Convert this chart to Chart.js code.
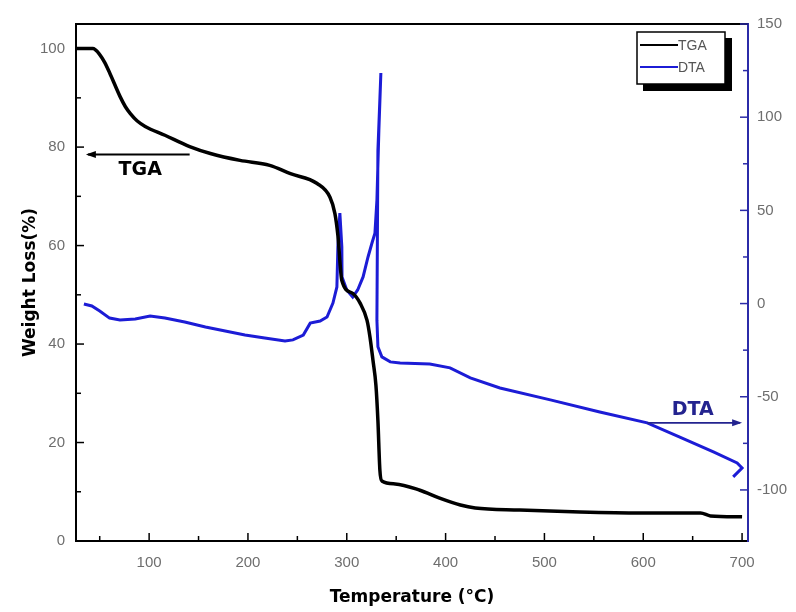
<!DOCTYPE html>
<html>
<head>
<meta charset="utf-8">
<title>TGA / DTA</title>
<script src="https://cdn.jsdelivr.net/npm/chart.js@4.4.1/dist/chart.umd.min.js"></script>
<style>
  html, body { margin: 0; padding: 0; background: #fff; }
  #wrap { width: 796px; height: 612px; }
</style>
</head>
<body>
<div id="wrap"><canvas id="chartTgaDta" width="796" height="612"></canvas></div>
<script>
// Data (suhu dalam °C)
const tgaTemp = [26, 43, 50, 55, 60, 70.5, 76, 81, 88, 96, 116, 141, 162, 192, 222, 243, 270, 283, 288, 291, 295, 306, 313.5,
  320.5, 323.5, 326.5, 329.5, 331.5, 333.5, 335.5, 349, 374, 394, 415, 430, 475, 536, 597, 658, 668, 700];
const tgaWeight = [100, 100, 98.8, 97.2, 95.1, 90.3, 88.2, 86.8, 85.3, 84.2, 82.4, 80.1, 78.7, 77.3, 76.3, 74.6, 72.6, 69.8, 66.5, 62.1, 52.9, 50.3, 48.3,
  44.8, 41.4, 36.7, 31.6, 24.5, 14.4, 12.2, 11.6, 10.3, 8.7, 7.3, 6.7, 6.3, 5.9, 5.7, 5.7, 5.1, 4.9];

// DTA: urutan titik dipertahankan (puncak eksotermis membuat suhu sedikit mundur)
const dtaTemp = [34, 42, 50, 60, 70.5, 86, 101, 116, 136, 157, 177, 197, 217, 237.5, 245.5, 256, 263, 273, 280, 286,
  290, 291, 293, 295, 295.2, 300, 306, 311, 316.5, 321.5, 325.5, 328.5, 330.5, 332.5, 334.5, 331.5, 330.5, 331.5, 335.5, 344,
  354, 384, 404.5, 425, 455, 506, 556, 604, 637, 671, 695, 700, 691];
const dtaSignal = [-0.2, -1.3, -4, -7.8, -8.8, -8.3, -6.7, -7.7, -9.9, -12.6, -14.7, -16.9, -18.5, -20.1, -19.5, -16.9, -10.5, -9.4, -7.2, 0.3,
  8.9, 30.4, 48.6, 30.4, 14.3, 7.3, 3.5, 7.3, 14.3, 25, 32.5, 37.8, 55.5, 93.1, 123.7, 82.3, -8.9, -23.2, -28.6, -31.3,
  -31.9, -32.4, -34.5, -39.9, -45.3, -51.7, -58.2, -64, -71.6, -79.6, -85.5, -88.2, -93];

// Tick (mayor berlabel, minor tanpa label)
const xMajor = [100, 200, 300, 400, 500, 600, 700];
const xMinor = [50, 150, 250, 350, 450, 550, 650];
const leftMajor = [0, 20, 40, 60, 80, 100];
const leftMinor = [10, 30, 50, 70, 90];
const rightMajor = [-100, -50, 0, 50, 100, 150];
const rightMinor = [-75, -25, 25, 75, 125];

const BLUE = '#1c1cd6';
const AXIS_BLUE = '#2b2ba8';
const NOTE_BLUE = '#23238f';

// Bingkai atas + tick yang menghadap ke dalam
const framePlugin = {
  id: 'frame',
  afterDatasetsDraw(chart) {
    const { ctx, chartArea: a, scales } = chart;
    const { x, y, y1 } = scales;
    ctx.save();
    ctx.lineWidth = 2;
    ctx.strokeStyle = '#000';
    ctx.beginPath();
    ctx.moveTo(a.left - 1, a.top);
    ctx.lineTo(a.right, a.top);
    ctx.stroke();

    ctx.lineWidth = 1.5;
    const tick = (x0, y0, x1, y1_) => { ctx.beginPath(); ctx.moveTo(x0, y0); ctx.lineTo(x1, y1_); ctx.stroke(); };
    xMajor.forEach(v => { const p = x.getPixelForValue(v); tick(p, a.bottom, p, a.bottom - 8); });
    xMinor.forEach(v => { const p = x.getPixelForValue(v); tick(p, a.bottom, p, a.bottom - 5); });
    leftMajor.forEach(v => { const p = y.getPixelForValue(v); tick(a.left, p, a.left + 8, p); });
    leftMinor.forEach(v => { const p = y.getPixelForValue(v); tick(a.left, p, a.left + 5, p); });
    ctx.strokeStyle = AXIS_BLUE;
    rightMajor.forEach(v => { const p = y1.getPixelForValue(v); tick(a.right, p, a.right - 8, p); });
    rightMinor.forEach(v => { const p = y1.getPixelForValue(v); tick(a.right, p, a.right - 5, p); });
    ctx.restore();
  }
};

// Panah keterangan "TGA" dan "DTA"
const notesPlugin = {
  id: 'notes',
  afterDatasetsDraw(chart) {
    const { ctx, scales: { x, y, y1 } } = chart;
    const arrow = (xa, xb, yy, color) => {
      ctx.strokeStyle = color; ctx.fillStyle = color; ctx.lineWidth = 1.8;
      ctx.beginPath(); ctx.moveTo(xa, yy); ctx.lineTo(xb, yy); ctx.stroke();
      const dir = xb > xa ? 1 : -1;
      ctx.beginPath();
      ctx.moveTo(xb + dir * 2, yy);
      ctx.lineTo(xb - dir * 8, yy - 3.5);
      ctx.lineTo(xb - dir * 8, yy + 3.5);
      ctx.closePath(); ctx.fill();
    };
    ctx.save();
    ctx.font = 'bold 19px "DejaVu Sans", Verdana, sans-serif';
    ctx.textAlign = 'center';
    ctx.textBaseline = 'middle';

    arrow(x.getPixelForValue(141), x.getPixelForValue(38), y.getPixelForValue(78.5), '#000');
    ctx.fillStyle = '#000';
    ctx.fillText('TGA', x.getPixelForValue(91), y.getPixelForValue(75.3));

    arrow(x.getPixelForValue(604), x.getPixelForValue(698), y1.getPixelForValue(-64), NOTE_BLUE);
    ctx.fillStyle = NOTE_BLUE;
    ctx.fillText('DTA', x.getPixelForValue(650), y1.getPixelForValue(-57));
    ctx.restore();
  }
};

// Legenda berbingkai dengan bayangan hitam
const legendPlugin = {
  id: 'boxLegend',
  afterDraw(chart) {
    const { ctx, chartArea: a } = chart;
    const w = 88, h = 52;
    const bx = a.right - 23 - w, by = a.top + 8;
    ctx.save();
    ctx.fillStyle = '#000';
    ctx.fillRect(bx + 6, by + 6, w + 1, h + 1);
    ctx.fillStyle = '#fff';
    ctx.fillRect(bx, by, w, h);
    ctx.strokeStyle = '#000';
    ctx.lineWidth = 1.5;
    ctx.strokeRect(bx, by, w, h);

    ctx.font = '14px "Liberation Sans", Arial, sans-serif';
    ctx.textBaseline = 'middle';
    chart.data.datasets.forEach((ds, i) => {
      const ly = by + 13 + i * 22;
      ctx.strokeStyle = ds.borderColor;
      ctx.lineWidth = 2;
      ctx.beginPath(); ctx.moveTo(bx + 3, ly); ctx.lineTo(bx + 41, ly); ctx.stroke();
      ctx.fillStyle = '#555';
      ctx.fillText(ds.label, bx + 41, ly + 1);
    });
    ctx.restore();
  }
};

const titleFont = { family: '"DejaVu Sans", Verdana, sans-serif', weight: 'bold', size: 17 };
const tickFont = { family: '"Liberation Sans", Arial, sans-serif', size: 15 };

const ctx = document.getElementById('chartTgaDta').getContext('2d');
new Chart(ctx, {
  type: 'scatter',
  data: {
    datasets: [{
      label: 'TGA',
      data: tgaTemp.map((t, i) => ({ x: t, y: tgaWeight[i] })),
      yAxisID: 'y',
      borderColor: '#000',
      backgroundColor: '#000',
      borderWidth: 3.5,
      showLine: true,
      pointRadius: 0,
      cubicInterpolationMode: 'monotone'
    }, {
      label: 'DTA',
      data: dtaTemp.map((t, i) => ({ x: t, y: dtaSignal[i] })),
      yAxisID: 'y1',
      borderColor: BLUE,
      backgroundColor: BLUE,
      borderWidth: 3,
      showLine: true,
      pointRadius: 0,
      tension: 0
    }]
  },
  options: {
    responsive: false,
    animation: false,
    layout: { padding: { top: 24, left: 0, right: 0, bottom: 0 } },
    plugins: {
      legend: { display: false },
      tooltip: { enabled: false }
    },
    scales: {
      x: {
        type: 'linear',
        position: 'bottom',
        min: 26,
        max: 706,
        afterFit: s => { s.height = 71; },
        afterBuildTicks: s => { s.ticks = xMajor.map(v => ({ value: v })); },
        grid: { display: false, drawTicks: false },
        border: { display: true, color: '#000', width: 2 },
        ticks: { padding: 13, font: tickFont, color: '#6e6e6e', maxRotation: 0 },
        title: { display: true, text: 'Temperature (°C)', font: titleFont, color: '#000', padding: { top: 0, bottom: 4 } }
      },
      y: {
        type: 'linear',
        position: 'left',
        min: 0,
        max: 105,
        afterFit: s => { s.width = 76; },
        afterBuildTicks: s => { s.ticks = leftMajor.map(v => ({ value: v })); },
        grid: { display: false, drawTicks: false },
        border: { display: true, color: '#000', width: 2 },
        ticks: { padding: 11, font: tickFont, color: '#6e6e6e' },
        title: { display: true, text: 'Weight Loss(%)', font: titleFont, color: '#000', padding: { top: 20, bottom: 0 } }
      },
      y1: {
        type: 'linear',
        position: 'right',
        min: -127.4,
        max: 150,
        afterFit: s => { s.width = 48; },
        afterBuildTicks: s => { s.ticks = rightMajor.map(v => ({ value: v })); },
        grid: { display: false, drawTicks: false },
        border: { display: true, color: AXIS_BLUE, width: 2 },
        ticks: { padding: 9, font: tickFont, color: '#6e6e6e' }
      }
    }
  },
  plugins: [framePlugin, notesPlugin, legendPlugin]
});
</script>
</body>
</html>
